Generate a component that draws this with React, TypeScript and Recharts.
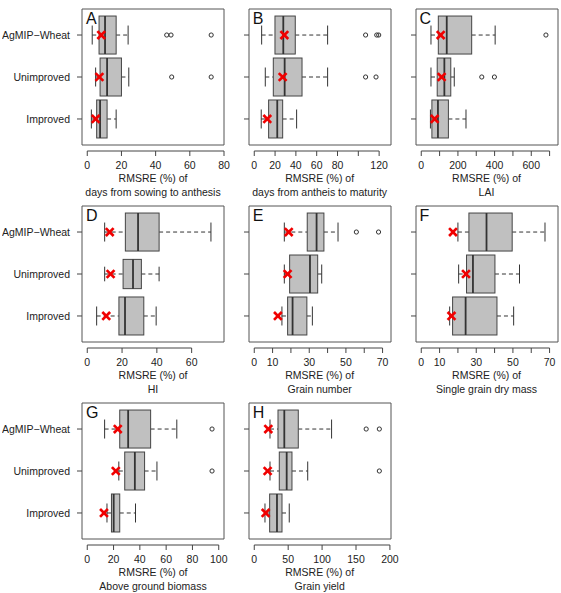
import React from 'react';
import { ComposedChart, Bar, Scatter, XAxis, YAxis, ReferenceArea, ReferenceLine } from 'recharts';

// row labels, top to bottom
const groups = ['AgMIP\u2212Wheat', 'Unimproved', 'Improved'];

const letters = ['A', 'B', 'C', 'D', 'E', 'F', 'G', 'H'];
const titles = [
  'days from sowing to anthesis',
  'days from antheis to maturity',
  'LAI',
  'HI',
  'Grain number',
  'Single grain dry mass',
  'Above ground biomass',
  'Grain yield',
];

// [lower whisker, q1, median, q3, upper whisker] per group (AgMIP, Unimproved, Improved)
const statsA = [[2.9, 6.9, 10.4, 16.9, 23.9], [4.9, 7.5, 11.6, 20, 24.3], [2.4, 5.5, 7.5, 11.6, 16.9]];
const statsB = [[7.1, 19.9, 27.9, 39.4, 70.5], [10.6, 18.3, 29.2, 45.9, 70.5], [6.7, 13.8, 22.1, 27.3, 40.7]];
const statsC = [[53, 93, 139, 275, 403], [53, 87, 126, 161, 180], [50, 58, 91, 148, 244]];
const statsD = [[10, 21.9, 29.2, 41.3, 71.1], [10, 20.6, 26.3, 31.1, 41.3], [5.4, 18.2, 21.7, 32.5, 39.6]];
const statsE = [[16.4, 28.9, 34, 38, 45.7], [16.4, 19.3, 30.4, 34.6, 36.8], [15.1, 18.2, 20.9, 28.7, 31.7]];
const statsF = [[20, 26, 35.6, 49.6, 67.5], [20.4, 24.7, 28.2, 40.2, 53.6], [15.5, 17.1, 24.2, 41.3, 50.4]];
const statsG = [[13.2, 24.7, 31.1, 48.2, 68.1], [24, 28.5, 36.2, 43.6, 53], [15, 18.4, 20.1, 24.7, 36.7]];
const statsH = [[23.2, 35, 44.3, 64.9, 114], [23.2, 36.9, 47.8, 55.6, 78.8], [15.8, 22.7, 33.5, 40.9, 51.6]];

// means (red crosses)
const meansA = [8.2, 7.1, 4.9];
const meansB = [28.9, 27.3, 12.5];
const meansC = [106, 111, 73];
const meansD = [12.9, 13.4, 10.9];
const meansE = [18.8, 18.2, 12.9];
const meansF = [17.3, 24.4, 16.5];
const meansG = [23.2, 21.7, 12.7];
const meansH = [20.7, 19.7, 16.8];

// outliers
const outA = [[46.5, 49, 72.5], [49.4, 72.5], []];
const outB = [[107, 117.7, 119.6], [107, 117], []];
const outC = [[680], [330, 399], []];
const outD = [[], [], []];
const outE = [[55.7, 67.8], [], []];
const outF = [[], [], []];
const outG = [[94.9], [94.9], []];
const outH = [[165, 184.4], [184.4], []];

// x axis ticks and which of them carry a label
const ticksA = [0, 20, 40, 60, 80];
const ticksB = [0, 20, 40, 60, 80, 100, 120];
const ticksC = [0, 100, 200, 300, 400, 500, 600, 700];
const ticksD = [0, 20, 40, 60];
const ticksE = [0, 10, 20, 30, 40, 50, 60, 70];
const ticksF = [0, 10, 20, 30, 40, 50, 60, 70];
const ticksG = [0, 20, 40, 60, 80, 100];
const ticksH = [0, 50, 100, 150, 200];
const labelsA = ticksA;
const labelsB = [0, 20, 40, 60, 80, 120];
const labelsC = [0, 200, 400, 600];
const labelsD = ticksD;
const labelsE = [0, 10, 30, 50, 70];
const labelsF = [0, 10, 30, 50, 70];
const labelsG = ticksG;
const labelsH = ticksH;

// upper end of each x range
const axisMax = [80, 131.4, 745.8, 78.6, 74.6, 74.6, 104, 201.6];

// relative box thickness (panel D's Unimproved box is drawn narrower)
const fullWidth = [1, 1, 1];
const widthD = [1, 0.77, 1];

const panels = [
  { stats: statsA, means: meansA, out: outA, ticks: ticksA, labels: labelsA, rel: fullWidth },
  { stats: statsB, means: meansB, out: outB, ticks: ticksB, labels: labelsB, rel: fullWidth },
  { stats: statsC, means: meansC, out: outC, ticks: ticksC, labels: labelsC, rel: fullWidth },
  { stats: statsD, means: meansD, out: outD, ticks: ticksD, labels: labelsD, rel: widthD },
  { stats: statsE, means: meansE, out: outE, ticks: ticksE, labels: labelsE, rel: fullWidth },
  { stats: statsF, means: meansF, out: outF, ticks: ticksF, labels: labelsF, rel: fullWidth },
  { stats: statsG, means: meansG, out: outG, ticks: ticksG, labels: labelsG, rel: fullWidth },
  { stats: statsH, means: meansH, out: outH, ticks: ticksH, labels: labelsH, rel: fullWidth },
];

const FONT = '"Liberation Sans", Arial, sans-serif';
const colX = [82, 248.7, 415.5];
const rowY = [9, 206, 403];
const FW = 142;
const FH = 136;
const GAP = 6;
const YW = 80;
const TOP = 5;
const RIGHT = 14;
const XH = 35;
const unit = FH / 3.24;
// vertical layout: row 1 is at the top, the bottom end leaves room for the offset axis
const yEnd = 3.62 + GAP / unit;

const whiskerRange = (d: any) => (d && d.stats ? [d.stats[0], d.stats[4]] : undefined);

const BoxShape = (props: any) => {
  const { x, y, width, height, payload } = props;
  if (!payload || !payload.stats || x == null || width == null) return null;
  const [lo, q1, med, q3, hi] = payload.stats;
  const px = (v: number) => x + (width * (v - lo)) / (hi - lo);
  const cy = y + height / 2;
  const h = height * (payload.rel ?? 1);
  const top = cy - h / 2;
  const c = '#333';
  return (
    <g>
      <line x1={px(lo)} x2={px(q1)} y1={cy} y2={cy} stroke={c} strokeDasharray="4 3" />
      <line x1={px(q3)} x2={px(hi)} y1={cy} y2={cy} stroke={c} strokeDasharray="4 3" />
      <line x1={px(lo)} x2={px(lo)} y1={cy - h / 4} y2={cy + h / 4} stroke={c} />
      <line x1={px(hi)} x2={px(hi)} y1={cy - h / 4} y2={cy + h / 4} stroke={c} />
      <rect x={px(q1)} y={top} width={px(q3) - px(q1)} height={h} fill="#c0c0c0" stroke="#444" />
      <line x1={px(med)} x2={px(med)} y1={top} y2={top + h} stroke="#333" strokeWidth={1.8} />
    </g>
  );
};

const Outlier = (props: any) =>
  props.cx == null ? null : (
    <circle cx={props.cx} cy={props.cy} r={2.1} fill="none" stroke="#333" strokeWidth={1} />
  );

const MeanCross = (props: any) => {
  const { cx, cy } = props;
  if (cx == null || cy == null) return null;
  const d = 3.9;
  return (
    <g stroke="#f00000" strokeWidth={2.7}>
      <line x1={cx - d} y1={cy - d} x2={cx + d} y2={cy + d} />
      <line x1={cx - d} y1={cy + d} x2={cx + d} y2={cy - d} />
    </g>
  );
};

const Panel = ({ idx }: { idx: number }) => {
  const p = panels[idx];
  const col = idx % 3;
  const row = Math.floor(idx / 3);
  const hi = axisMax[idx];
  const lo = -hi * 0.04 / 1.04;
  const boxes = p.stats.map((s, i) => ({ row: i + 1, stats: s, rel: p.rel[i] }));
  const means = p.means.map((m, i) => ({ v: m, row: i + 1 }));
  const outs = p.out.flatMap((list, i) => list.map((v) => ({ v, row: i + 1 })));
  const t0 = p.ticks[0];
  const tN = p.ticks[p.ticks.length - 1];
  return (
    <div style={{ position: 'absolute', left: colX[col] - YW, top: rowY[row] - TOP }}>
      <ComposedChart
        width={YW + FW + RIGHT}
        height={TOP + FH + GAP + XH}
        layout="vertical"
        data={boxes}
        margin={{ top: TOP, right: RIGHT, bottom: 0, left: 0 }}
      >
        <XAxis
          type="number"
          dataKey="v"
          domain={[lo, hi]}
          allowDataOverflow
          ticks={p.ticks}
          interval={0}
          tickFormatter={(v: number) => (p.labels.includes(v) ? String(v) : '')}
          axisLine={false}
          tickSize={5}
          tickMargin={6}
          height={XH}
          tickLine={{ stroke: '#444' }}
          tick={{ fontSize: 10.5, fill: '#222', fontFamily: FONT }}
        />
        <YAxis
          type="number"
          dataKey="row"
          domain={[0.38, yEnd]}
          allowDataOverflow
          ticks={[1, 2, 3]}
          interval={0}
          tickFormatter={(v: number) => (col === 0 ? groups[v - 1] : '')}
          axisLine={false}
          tickSize={5}
          tickMargin={7}
          width={YW}
          tickLine={{ stroke: '#444' }}
          tick={{ fontSize: 10.5, fill: '#222', fontFamily: FONT }}
        />
        <ReferenceArea x1={lo} x2={hi} y1={0.38} y2={3.62} fill="none" stroke="#555" strokeWidth={1} ifOverflow="visible" />
        <ReferenceLine
          segment={[{ x: t0, y: yEnd }, { x: tN, y: yEnd }]}
          stroke="#444"
          ifOverflow="visible"
        />
        <Bar dataKey={whiskerRange} barSize={38} shape={<BoxShape />} isAnimationActive={false} />
        <Scatter data={outs} shape={<Outlier />} isAnimationActive={false} />
        <Scatter data={means} shape={<MeanCross />} isAnimationActive={false} />
      </ComposedChart>
    </div>
  );
};

export default function App() {
  return (
    <div style={{ position: 'absolute', left: 0, top: 0, width: 561, height: 593, background: '#fff', fontFamily: FONT }}>
      {panels.map((_, i) => (
        <Panel key={i} idx={i} />
      ))}
      {panels.map((_, i) => {
        const col = i % 3;
        const row = Math.floor(i / 3);
        return (
          <React.Fragment key={'t' + i}>
            <div
              style={{
                position: 'absolute',
                left: colX[col] + 4,
                top: rowY[row] + 0.5,
                fontSize: 16,
                lineHeight: '18px',
                color: '#111',
              }}
            >
              {letters[i]}
            </div>
            <div
              style={{
                position: 'absolute',
                left: colX[col] - 20,
                width: FW + 40,
                top: rowY[row] + 163.3,
                textAlign: 'center',
                fontSize: 10.5,
                lineHeight: '13.3px',
                color: '#222',
              }}
            >
              RMSRE (%) of
              <br />
              {titles[i]}
            </div>
          </React.Fragment>
        );
      })}
    </div>
  );
}
